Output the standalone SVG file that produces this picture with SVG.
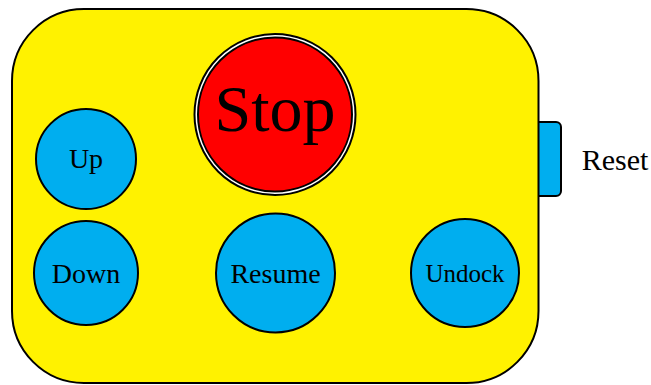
<svg xmlns="http://www.w3.org/2000/svg" width="651" height="385" viewBox="0 0 651 385">
<style>
.btn{fill:#00aeef;stroke:#000;stroke-width:2}
.lbl{font-family:"Liberation Serif","DejaVu Serif",serif;font-size:28px;fill:#000;text-anchor:middle}
</style>
<rect width="651" height="385" fill="#fff"/>
<g id="reset-tab">
<path class="btn" d="M538,122 H556 A5,5 0 0 1 561,127 V191 A5,5 0 0 1 556,196 H538 Z"/>
</g>
<g id="panel">
<rect x="12" y="9" width="526.5" height="374" rx="72" ry="72" fill="#fff200" stroke="#000" stroke-width="2"/>
</g>
<g id="stop">
<circle cx="275" cy="114.5" r="80.5" fill="#fff" stroke="#000" stroke-width="2"/>
<circle cx="275" cy="114.5" r="77" fill="#ff0000" stroke="#000" stroke-width="2"/>
<text class="lbl" x="275" y="131" style="font-size:66px">Stop</text>
</g>
<g id="up">
<circle class="btn" cx="86" cy="159" r="50"/>
<text class="lbl" x="86" y="168">Up</text>
</g>
<g id="down">
<circle class="btn" cx="86" cy="273" r="52"/>
<text class="lbl" x="86" y="283">Down</text>
</g>
<g id="resume">
<circle class="btn" cx="275.5" cy="273" r="59.5"/>
<text class="lbl" x="275.5" y="283">Resume</text>
</g>
<g id="undock">
<circle class="btn" cx="465" cy="273" r="54"/>
<text class="lbl" x="465" y="282" style="font-size:25px">Undock</text>
</g>
<g id="reset">
<text class="lbl" x="615" y="170" style="font-size:30px">Reset</text>
</g>
<g id="connectors"/>
</svg>
